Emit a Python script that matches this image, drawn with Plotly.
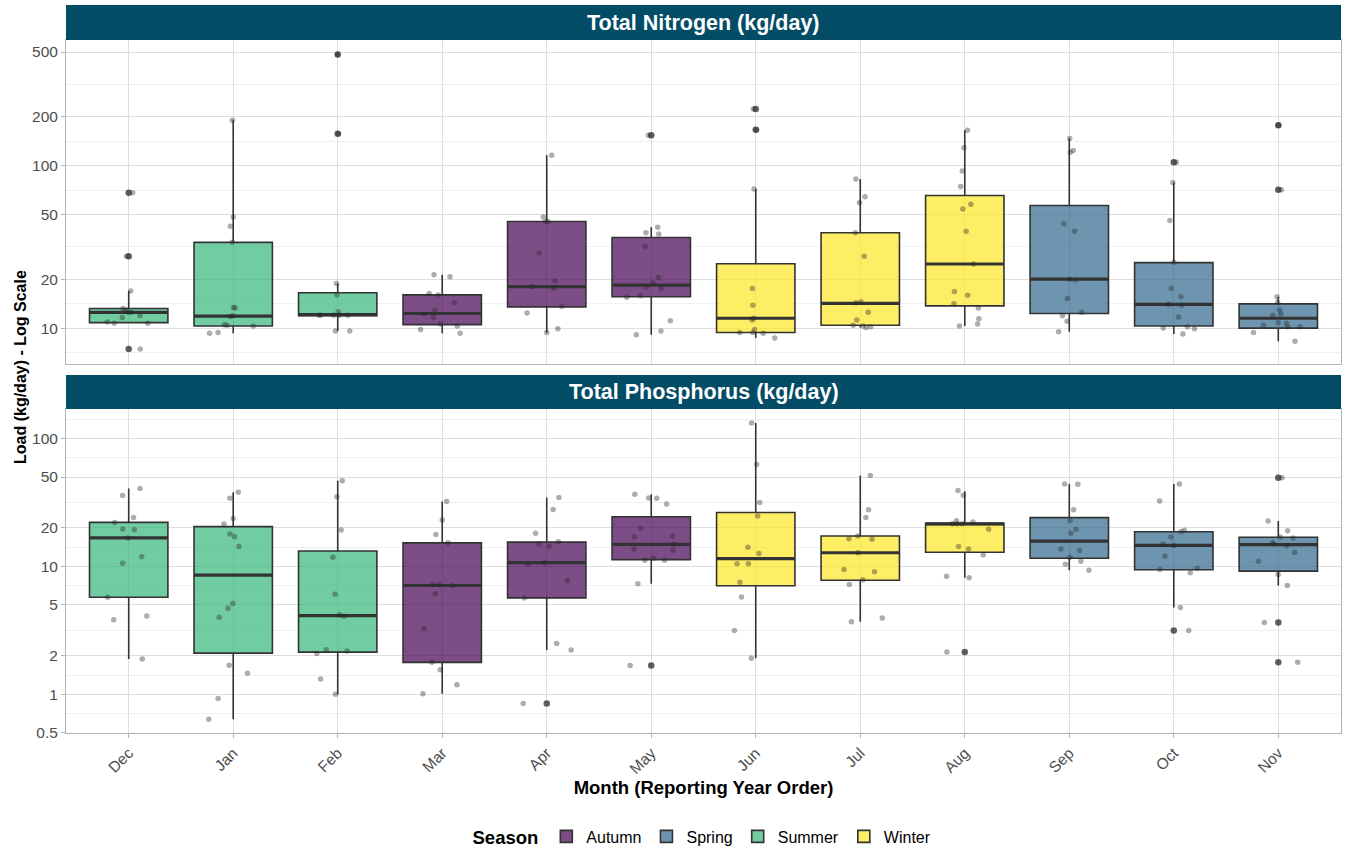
import plotly.graph_objects as go

# ---------------- data ----------------
months = ["Dec", "Jan", "Feb", "Mar", "Apr", "May", "Jun", "Jul", "Aug", "Sep", "Oct", "Nov"]
month_season = ["Summer", "Summer", "Summer", "Autumn", "Autumn", "Autumn",
                "Winter", "Winter", "Winter", "Spring", "Spring", "Spring"]
seasons = ["Autumn", "Spring", "Summer", "Winter"]
season_colors = ["#440154", "#31688E", "#35B779", "#FDE725"]

# Total Nitrogen (kg/day) - box summaries per month
tn_q1 = [10.8, 10.3, 11.9, 10.5, 13.5, 15.6, 9.4, 10.4, 13.7, 12.3, 10.3, 10.0]
tn_median = [12.5, 11.85, 12.1, 12.3, 18.0, 18.4, 11.5, 14.2, 24.8, 20.0, 14.0, 11.5]
tn_q3 = [13.2, 33.7, 16.5, 16.0, 45.3, 36.1, 24.9, 38.6, 65.5, 56.8, 25.3, 14.1]
tn_lower = [10.7, 9.3, 9.6, 9.3, 9.4, 9.1, 8.7, 10.1, 10.3, 9.5, 9.2, 8.3]
tn_upper = [16.9, 190, 18.8, 21.3, 115.7, 41.7, 71.9, 82.8, 165, 147, 78.7, 15.6]
tn_outlier_month = ["Dec", "Dec", "Dec", "Feb", "Feb", "May", "Jun", "Jun", "Oct", "Nov", "Nov"]
tn_outlier_value = [68.0, 27.7, 7.44, 482, 157, 154, 223, 166, 105, 177, 71.0]
tn_points = [
    [68.0, 27.7, 16.9, 13.2, 12.9, 12.5, 12.5, 11.9, 11.6, 10.9, 10.7, 10.7, 7.44],
    [190, 48.2, 42.4, 33.7, 13.3, 13.4, 11.8, 11.9, 10.3, 10.5, 10.4, 9.4, 9.3],
    [482, 157, 18.8, 16.0, 12.6, 12.0, 12.0, 12.0, 12.0, 12.0, 9.6, 9.6],
    [20.7, 21.3, 16.3, 16.0, 14.3, 12.9, 12.2, 11.6, 10.6, 10.3, 9.8, 9.3],
    [115.7, 48.2, 45.3, 45.3, 29.0, 19.5, 18.0, 17.6, 13.6, 12.4, 9.4, 9.9],
    [154, 41.7, 38.6, 38.0, 31.8, 20.5, 19.0, 17.9, 17.5, 15.8, 15.5, 11.1, 9.6, 9.1],
    [223, 166, 71.9, 17.5, 13.8, 11.5, 11.2, 9.8, 9.4, 9.3, 9.4, 8.7],
    [82.8, 64.3, 59.0, 38.6, 27.7, 14.5, 14.3, 12.5, 11.2, 10.4, 10.1, 10.2, 10.3],
    [165, 129, 92.7, 74.3, 57.9, 54.0, 39.4, 24.8, 16.8, 15.9, 14.1, 13.3, 11.4, 10.3, 10.6],
    [147, 124, 121, 43.9, 39.4, 20.0, 19.8, 15.2, 12.5, 11.9, 11.0, 9.5],
    [105, 78.7, 46.0, 25.4, 17.6, 15.6, 14.0, 13.8, 11.7, 10.0, 10.2, 9.9, 9.2],
    [177, 71.0, 15.6, 14.4, 12.9, 12.2, 12.0, 10.8, 10.7, 10.4, 10.2, 10.2, 9.4, 8.3],
]

# Total Phosphorus (kg/day) - box summaries per month
tp_q1 = [5.74, 2.10, 2.14, 1.78, 5.68, 11.3, 7.06, 7.81, 12.9, 11.6, 9.42, 9.19]
tp_median = [16.7, 8.55, 4.13, 7.1, 10.7, 14.9, 11.5, 12.8, 21.5, 15.8, 14.6, 14.8]
tp_q3 = [22.1, 20.5, 13.2, 15.3, 15.5, 24.5, 26.4, 17.3, 21.7, 24.1, 18.7, 16.9]
tp_lower = [1.89, 0.638, 1.00, 1.01, 2.22, 7.31, 1.92, 3.70, 8.15, 9.36, 4.77, 7.10]
tp_upper = [40.7, 38.1, 46.7, 32.2, 34.6, 36.7, 132, 51.5, 38.8, 44.2, 44.2, 22.7]
tp_outlier_month = ["Apr", "May", "Aug", "Oct", "Nov", "Nov", "Nov"]
tp_outlier_value = [0.847, 1.68, 2.14, 3.16, 49.3, 3.64, 1.78]
tp_points = [
    [40.7, 35.8, 24.1, 22.1, 19.4, 19.6, 16.7, 11.9, 10.6, 5.74, 4.10, 3.84, 1.89],
    [38.1, 34.1, 23.7, 21.5, 17.9, 17.1, 14.3, 5.13, 4.71, 4.01, 1.69, 1.46, 0.927, 0.638],
    [46.7, 35.0, 19.3, 11.8, 6.07, 4.08, 4.2, 2.18, 2.23, 2.09, 1.32, 1.00],
    [32.2, 23.1, 17.8, 15.3, 7.22, 7.3, 7.1, 6.11, 3.28, 1.78, 1.56, 1.19, 1.01],
    [34.6, 27.9, 18.2, 14.4, 15.0, 15.6, 10.7, 10.4, 7.77, 5.68, 2.50, 2.22, 0.847],
    [36.7, 34.1, 34.3, 30.8, 19.8, 17.3, 17.0, 14.9, 13.7, 13.4, 11.6, 11.2, 11.2, 7.31, 1.68],
    [132, 62.8, 31.6, 24.8, 14.1, 12.6, 10.5, 10.5, 7.53, 5.78, 3.16, 1.92],
    [51.5, 27.7, 24.1, 17.3, 16.5, 16.3, 12.8, 9.47, 9.09, 7.86, 7.22, 3.96, 3.70],
    [39.2, 36.0, 22.8, 22.3, 21.6, 21.6, 21.6, 19.5, 14.3, 13.7, 12.3, 8.39, 8.15, 2.14],
    [44.0, 44.2, 27.7, 22.9, 19.5, 18.2, 13.7, 13.3, 11.8, 11.0, 10.4, 9.36],
    [44.2, 32.5, 19.2, 18.7, 17.0, 15.0, 14.6, 12.0, 9.7, 9.47, 8.92, 4.77, 3.16],
    [49.3, 22.7, 19.0, 17.0, 16.7, 15.3, 15.0, 14.6, 12.9, 11.0, 8.66, 7.10, 3.64, 1.78],
]

tn_tickvals = [10, 20, 50, 100, 200, 500]
tp_tickvals = [0.5, 1, 2, 5, 10, 20, 50, 100]

# ---------------- styling ----------------
FONT = "Liberation Sans, Arial, sans-serif"
STRIP = "#034C66"
BOX_LINE = "#333333"
GRID_MAJOR = "#dedede"
GRID_MINOR = "#f0f0f0"
BORDER = "#b3b3b3"
TICK_TEXT = "#4d4d4d"


def rgba(hex_color, a):
    h = hex_color.lstrip("#")
    r, g, b = int(h[0:2], 16), int(h[2:4], 16), int(h[4:6], 16)
    return f"rgba({r},{g},{b},{a})"


def minor_vals(vals):
    out = []
    for a, b in zip(vals[:-1], vals[1:]):
        out.append((a * b) ** 0.5)
    out.append(vals[0] / (vals[1] / vals[0]) ** 0.5)
    out.append(vals[-1] * (vals[-1] / vals[-2]) ** 0.5)
    return out


fig = go.Figure()

panels = [
    ("x", "y", tn_q1, tn_median, tn_q3, tn_lower, tn_upper, tn_points, tn_outlier_month, tn_outlier_value, True),
    ("x2", "y2", tp_q1, tp_median, tp_q3, tp_lower, tp_upper, tp_points, tp_outlier_month, tp_outlier_value, False),
]

for xa, ya, q1, med, q3, lo, hi, pts, om, ov, show_leg in panels:
    # boxes
    for s, col in zip(seasons, season_colors):
        idx = [i for i, ms in enumerate(month_season) if ms == s]
        fig.add_trace(go.Box(
            x=[months[i] for i in idx],
            q1=[q1[i] for i in idx], median=[med[i] for i in idx], q3=[q3[i] for i in idx],
            lowerfence=[lo[i] for i in idx], upperfence=[hi[i] for i in idx],
            orientation="v", boxpoints=False, width=0.75, whiskerwidth=0,
            fillcolor=rgba(col, 0.7), line=dict(color=BOX_LINE, width=1.6),
            name=s, legendgroup=s, showlegend=show_leg, hoverinfo="skip",
            xaxis=xa, yaxis=ya,
        ))
    # thick median lines
    for s in seasons:
        idx = [i for i, ms in enumerate(month_season) if ms == s]
        m = [med[i] for i in idx]
        fig.add_trace(go.Box(
            x=[months[i] for i in idx], q1=m, median=m, q3=m, lowerfence=m, upperfence=m,
            orientation="v", boxpoints=False, width=0.75, whiskerwidth=0,
            fillcolor="rgba(0,0,0,0)", line=dict(color=BOX_LINE, width=3.2),
            showlegend=False, hoverinfo="skip", legendgroup=s,
            xaxis=xa, yaxis=ya,
        ))
    # outliers of the boxplot
    fig.add_trace(go.Scatter(
        x=om, y=ov, mode="markers",
        marker=dict(color="rgba(40,40,40,0.75)", size=6.5, line=dict(width=0)),
        showlegend=False, hoverinfo="skip", xaxis=xa, yaxis=ya,
    ))
    # jittered observations
    jx, jy = [], []
    for i, vals in enumerate(pts):
        jx += [months[i]] * len(vals)
        jy += vals
    fig.add_trace(go.Box(
        x=jx, y=jy, boxpoints="all", jitter=1, pointpos=0, width=0.5,
        fillcolor="rgba(0,0,0,0)", line=dict(color="rgba(0,0,0,0)", width=0),
        marker=dict(color="rgba(40,40,40,0.38)", size=5.5, line=dict(width=0)),
        showlegend=False, hoverinfo="skip", xaxis=xa, yaxis=ya,
    ))

# ---------------- layout ----------------
H_PLOT = 728.0  # paper height in px (850 - t - b)


def py(px):
    return (733 - px) / H_PLOT


common_x = dict(
    type="category", categoryorder="array", categoryarray=months,
    range=[-0.6, 11.6], showgrid=True, gridcolor=GRID_MAJOR, gridwidth=1,
    showline=True, mirror=True, linecolor=BORDER, linewidth=1, zeroline=False,
    automargin=False,
)
common_y = dict(
    type="log", showgrid=True, gridcolor=GRID_MAJOR, gridwidth=1,
    showline=True, mirror=True, linecolor=BORDER, linewidth=1,
    ticks="outside", ticklen=4, tickcolor=BORDER,
    tickfont=dict(family=FONT, size=15.5, color=TICK_TEXT), zeroline=False,
    automargin=False,
)

fig.update_layout(
    width=1346, height=850, autosize=False,
    margin=dict(l=66, r=5, t=5, b=117, autoexpand=False),
    paper_bgcolor="white", plot_bgcolor="white",
    boxmode="overlay",
    font=dict(family=FONT, color="black"),
    xaxis=dict(common_x, anchor="y", domain=[0, 1], showticklabels=False, ticks=""),
    xaxis2=dict(common_x, anchor="y2", domain=[0, 1], matches="x",
                ticks="outside", ticklen=4, tickcolor=BORDER, tickangle=-45,
                tickfont=dict(family=FONT, size=15.5, color=TICK_TEXT),
                title=dict(text="<b>Month (Reporting Year Order)</b>",
                           font=dict(family=FONT, size=18.5, color="black"), standoff=3)),
    yaxis=dict(common_y, anchor="x", domain=[py(364), py(40)],
               range=[0.779, 2.773],
               tickmode="array", tickvals=tn_tickvals, ticktext=[str(v) for v in tn_tickvals],
               minor=dict(tickmode="array", tickvals=minor_vals(tn_tickvals), showgrid=True,
                          gridcolor=GRID_MINOR, gridwidth=1, ticks="")),
    yaxis2=dict(common_y, anchor="x2", domain=[0, py(409)],
                range=[-0.302, 2.231],
                tickmode="array", tickvals=tp_tickvals, ticktext=[f"{v:g}" for v in tp_tickvals],
                minor=dict(tickmode="array", tickvals=minor_vals(tp_tickvals), showgrid=True,
                           gridcolor=GRID_MINOR, gridwidth=1, ticks="")),
    legend=dict(
        orientation="h", x=0.5, xanchor="center", y=py(837), yanchor="middle",
        title=dict(text="<b>Season</b>", font=dict(family=FONT, size=18.5, color="black")),
        font=dict(family=FONT, size=16, color="black"),
        traceorder="normal", itemwidth=30,
    ),
    shapes=[
        dict(type="rect", xref="paper", yref="paper", x0=0, x1=1, y0=py(40), y1=py(5),
             fillcolor=STRIP, line=dict(width=0), layer="above"),
        dict(type="rect", xref="paper", yref="paper", x0=0, x1=1, y0=py(409), y1=py(375),
             fillcolor=STRIP, line=dict(width=0), layer="above"),
    ],
    annotations=[
        dict(text="<b>Total Nitrogen (kg/day)</b>", xref="paper", yref="paper",
             x=0.5, y=py(22.5), xanchor="center", yanchor="middle", showarrow=False,
             font=dict(family=FONT, size=21.5, color="white")),
        dict(text="<b>Total Phosphorus (kg/day)</b>", xref="paper", yref="paper",
             x=0.5, y=py(392), xanchor="center", yanchor="middle", showarrow=False,
             font=dict(family=FONT, size=21.5, color="white")),
        dict(text="<b>Load (kg/day) - Log Scale</b>", xref="paper", yref="paper",
             x=-(66 - 20) / 1275.0, y=py(367), xanchor="center", yanchor="middle",
             textangle=-90, showarrow=False,
             font=dict(family=FONT, size=16, color="black")),
    ],
)

fig.write_html(
    "out.html",
    config={"responsive": False, "displayModeBar": False},
    post_script="document.body.style.margin='0';document.body.style.overflow='hidden';",
)
